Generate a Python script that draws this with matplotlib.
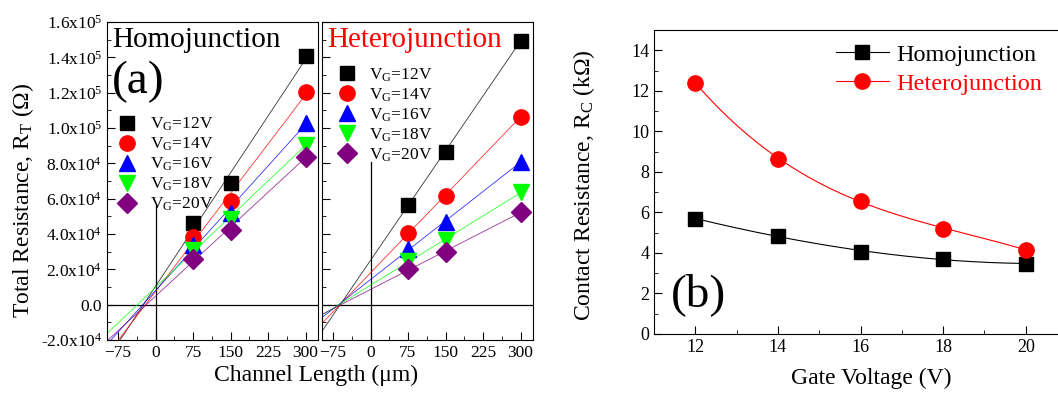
import numpy as np
import matplotlib
matplotlib.use("Agg")
import matplotlib.pyplot as plt
from matplotlib.ticker import FuncFormatter, MultipleLocator
from matplotlib.lines import Line2D

plt.rcParams['font.family'] = ['Liberation Serif', 'DejaVu Serif']
plt.rcParams['mathtext.fontset'] = 'custom'
plt.rcParams['mathtext.rm'] = 'Liberation Serif'
plt.rcParams['mathtext.it'] = 'Liberation Serif:italic'

# channel lengths (um) for TLM plots
length = [75, 150, 300]
vg_labels = ["12", "14", "16", "18", "20"]

# total resistance (ohm), homojunction
homo_rt = {
    "12": [46200, 69000, 140700],
    "14": [38200, 58700, 120200],
    "16": [33600, 51800, 103100],
    "18": [30800, 48400, 90600],
    "20": [25600, 42200, 83800],
}
# total resistance (ohm), heterojunction
hetero_rt = {
    "12": [56400, 86600, 149300],
    "14": [40500, 61500, 106500],
    "16": [31300, 46700, 80900],
    "18": [24500, 36500, 63500],
    "20": [20000, 29600, 52400],
}

# contact resistance vs gate voltage
gate_v = [12, 14, 16, 18, 20]
homo_rc = [5.69, 4.85, 4.06, 3.71, 3.47]
hetero_rc = [12.4, 8.65, 6.58, 5.2, 4.16]

colors = ["black", "red", "blue", "#00ff00", "#800080"]
markers = ["s", "o", "^", "v", "D"]
msizes = [10, 11, 11, 11, 10]


def sci_fmt(v, pos):
    if abs(v) < 1e-9:
        return "0.0"
    e = int(np.floor(np.log10(abs(v))))
    m = v / 10 ** e
    return f"{m:.1f}x10$^{{{e}}}$"


fig = plt.figure(figsize=(10.58, 3.94), dpi=100)
W, H = 1058, 394

def px_axes(x0, y0, x1, y1):
    return fig.add_axes([x0 / W, 1 - y1 / H, (x1 - x0) / W, (y1 - y0) / H])

ax1 = px_axes(107, 22, 318, 340)
ax2 = px_axes(322, 22, 533, 340)
ax3 = px_axes(654, 30, 1067, 334)

panels = [(ax1, homo_rt, "Homojunction", "black", 0.42, 0.705, 0.055),
          (ax2, hetero_rt, "Heterojunction", "red", 0.56, 0.86, 0.075)]

for ax, data, name, tcolor, vtop, legy, legx in panels:
    ax.set_xlim(-97, 325)
    ax.set_ylim(-2.0e4, 1.6e5)
    ax.axhline(0, color="black", lw=0.9, zorder=1)
    ax.axvline(0, ymax=vtop, color="black", lw=0.9, zorder=1)
    xfit = np.linspace(-110, 300, 50)
    handles = []
    for i, vg in enumerate(vg_labels):
        k, b = np.polyfit(length, data[vg], 1)
        ax.plot(xfit, k * xfit + b, color=colors[i], lw=0.6, alpha=0.8, zorder=2)
        ax.plot(length, data[vg], ls="none", marker=markers[i], color=colors[i],
                ms=msizes[i], zorder=3)
        handles.append(Line2D([], [], ls="none", marker=markers[i], color=colors[i],
                              ms=msizes[i], label=r"V$_\mathrm{G}$=" + vg + "V"))
    ax.legend(handles=handles, loc="upper left", bbox_to_anchor=(legx, legy),
              frameon=False, fontsize=12.5, handlelength=1.0, handletextpad=0.8,
              labelspacing=0.15, borderaxespad=0, borderpad=0)
    ax.text(0.025, 0.985, name, transform=ax.transAxes, fontsize=21,
            color=tcolor, va="top", ha="left")
    ax.xaxis.set_major_locator(MultipleLocator(75))
    ax.xaxis.set_minor_locator(MultipleLocator(37.5))
    ax.yaxis.set_major_locator(MultipleLocator(2e4))
    ax.yaxis.set_minor_locator(MultipleLocator(1e4))
    ax.tick_params(which="both", direction="in", top=False, right=False, labelsize=12.5)
    ax.tick_params(which="major", length=6)
    ax.tick_params(which="minor", length=3)

ax1.text(0.025, 0.88, "(a)", transform=ax1.transAxes, fontsize=34, va="top", ha="left")
ax1.yaxis.set_major_formatter(FuncFormatter(sci_fmt))
ax1.set_ylabel("Total Resistance, R$_\\mathrm{T}$ (Ω)", fontsize=17)
ax1.yaxis.set_label_coords(-0.335, 0.44)
ax2.tick_params(labelleft=False)
fig.text(316 / W, 1 - 375 / H, "Channel Length (μm)", fontsize=17,
         ha="center", va="center")

# panel (b)
xs = np.linspace(12, 20, 200)
ax3.plot(xs, np.polyval(np.polyfit(gate_v, homo_rc, 3), xs), color="black", lw=0.8)
ax3.plot(xs, np.polyval(np.polyfit(gate_v, hetero_rc, 3), xs), color="red", lw=0.8)
ax3.plot(gate_v, homo_rc, ls="none", marker="s", color="black", ms=10)
ax3.plot(gate_v, hetero_rc, ls="none", marker="o", color="red", ms=11)
hb = [Line2D([], [], color="black", lw=0.8, marker="s", ms=10, label="Homojunction"),
      Line2D([], [], color="red", lw=0.8, marker="o", ms=11, label="Heterojunction")]
leg = ax3.legend(handles=hb, loc="upper left", bbox_to_anchor=(0.44, 0.955),
                 frameon=False, fontsize=17.5, handlelength=2.2, handletextpad=0.3,
                 labelspacing=0.3, borderaxespad=0, borderpad=0)
leg.get_texts()[1].set_color("red")
ax3.set_xlim(11, 21)
ax3.set_ylim(0, 15)
ax3.xaxis.set_major_locator(MultipleLocator(2))
ax3.xaxis.set_minor_locator(MultipleLocator(1))
ax3.yaxis.set_major_locator(MultipleLocator(2))
ax3.yaxis.set_minor_locator(MultipleLocator(1))
ax3.tick_params(which="both", direction="in", top=False, right=False, labelsize=13)
ax3.tick_params(which="major", length=6)
ax3.tick_params(which="minor", length=3)
ax3.text(0.04, 0.13, "(b)", transform=ax3.transAxes, fontsize=34, va="center", ha="left")
ax3.set_ylabel("Contact Resistance, R$_\\mathrm{C}$ (kΩ)", fontsize=17)
ax3.yaxis.set_label_coords(-0.138, 0.49)
ax3.set_xlabel("Gate Voltage (V)", fontsize=17)
ax3.xaxis.set_label_coords((871 - 654) / 413, -0.11)

fig.savefig("out.png", dpi=100)
